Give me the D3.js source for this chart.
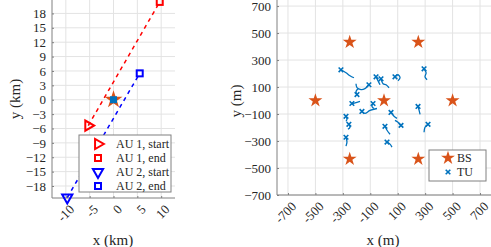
<!DOCTYPE html>
<html>
<head>
<meta charset="utf-8">
<script src="https://cdn.jsdelivr.net/npm/d3@7"></script>
<style>
  body { margin: 0; background: #fff; }
  svg text { font-family: "Liberation Serif", "Times New Roman", serif; fill: #262626; }
</style>
</head>
<body>
<div id="chart"></div>
<script>
// ---- data ----
// left: aerial users (km)
var au1Start = [-5.3, -5.4], au1End = [9.7, 20.4]
var au2Start = [-9.7, -20.4], au2End = [5.5, 5.5]
var bsLeft = [[0, 0]]
var kmTicksX = [-10, -5, 0, 5, 10]
var kmTicksY = [-18, -15, -12, -9, -6, -3, 0, 3, 6, 9, 12, 15, 18]
var auLegend = ["AU 1, start", "AU 1, end", "AU 2, start", "AU 2, end"]

// right: base stations and terrestrial users (m)
var bsX = [-250, 250, -500, 0, 500, -250, 250]
var bsY = [433, 433, 0, 0, 0, -433, -433]
// each TU track: first point is the marker
var tuTracks = [
  [[-314, 228], [-277, 206], [-248, 184], [-219, 169]],
  [[292, 235], [307, 206], [299, 176], [314, 154]],
  [[-58, 176], [-44, 147], [-29, 117]],
  [[-22, 161], [-7, 125], [15, 117], [37, 95]],
  [[-110, 117], [-139, 88], [-168, 81], [-197, 95], [-204, 125]],
  [[-197, 44], [-204, 66], [-190, 88]],
  [[80, 176], [102, 191], [117, 169], [102, 147]],
  [[-234, -22], [-204, -15], [-175, -7]],
  [[-80, -22], [-88, -44], [-73, -59]],
  [[-161, -81], [-139, -95], [-102, -73], [-51, -59]],
  [[-277, -117], [-270, -139], [-277, -154]],
  [[-256, -176], [-248, -198], [-263, -213]],
  [[51, -88], [73, -117], [95, -132]],
  [[124, -184], [102, -161], [80, -147]],
  [[248, -44], [256, -73], [263, -103]],
  [[321, -176], [299, -198], [292, -235]],
  [[7, -191], [22, -220], [44, -250]],
  [[-277, -272], [-270, -308], [-277, -338]],
  [[22, -308], [44, -323], [58, -345]]
]
var mTicks = [-700, -500, -300, -100, 100, 300, 500, 700]
var tuLegend = ["BS", "TU"]

var red = "#ff0000", blue = "#0000ff", orange = "#d95319", tuBlue = "#0072bd"
var gridCol = "#e3e3e3", axisCol = "#808080"
var serif = "Liberation Serif, Times New Roman, serif"

var svg = d3.select("#chart").append("svg")
  .attr("width", 491).attr("height", 247)

// ---- left panel ----
var x1 = d3.scaleLinear().domain([-12.9, 12.9]).range([52, 175])
var y1 = d3.scaleLinear().domain([-20.5, 20.8]).range([198, 0])

var left = svg.append("g")

left.append("g").selectAll("line").data(kmTicksX).enter().append("line")
  .attr("x1", d => x1(d)).attr("x2", d => x1(d))
  .attr("y1", 0).attr("y2", 198)
  .attr("stroke", gridCol)
left.append("g").selectAll("line").data(kmTicksY).enter().append("line")
  .attr("x1", 52).attr("x2", 175)
  .attr("y1", d => y1(d)).attr("y2", d => y1(d))
  .attr("stroke", gridCol)

var ax1 = left.append("g").attr("transform", "translate(52,0)")
  .call(d3.axisLeft(y1).tickValues(kmTicksY).tickSize(-2).tickPadding(6))
var bx1 = left.append("g").attr("transform", "translate(0,198)")
  .call(d3.axisBottom(x1).tickValues(kmTicksX).tickSize(-2).tickFormat(""))
left.selectAll(".domain, .tick line").attr("stroke", axisCol)
ax1.attr("font-family", serif).attr("font-size", 13)
ax1.selectAll("text").attr("fill", "#262626")
ax1.select(".domain").attr("d", "M0,0V198")
bx1.select(".domain").attr("d", "M52,0H175")

left.append("g").selectAll("text").data(kmTicksX).enter().append("text")
  .attr("transform", d => "translate(" + (x1(d) + 6) + ",207) rotate(-45)")
  .attr("text-anchor", "end").attr("dy", "0.35em")
  .style("font-size", "13px")
  .text(d => d)

left.append("text").attr("x", 113).attr("y", 245).attr("text-anchor", "middle")
  .style("font-size", "15px").text("x (km)")
left.append("text").attr("transform", "translate(20,99) rotate(-90)")
  .attr("text-anchor", "middle").style("font-size", "15px").text("y (km)")

left.append("line")
  .attr("x1", x1(au1Start[0])).attr("y1", y1(au1Start[1]))
  .attr("x2", x1(au1End[0])).attr("y2", y1(au1End[1]))
  .attr("stroke", red).attr("stroke-width", 1.5).attr("stroke-dasharray", "4,4")
left.append("line")
  .attr("x1", x1(au2Start[0])).attr("y1", y1(au2Start[1]))
  .attr("x2", x1(au2End[0])).attr("y2", y1(au2End[1]))
  .attr("stroke", blue).attr("stroke-width", 1.5).attr("stroke-dasharray", "4,4")

var star = d3.symbol().type(d3.symbolStar)
var tri = d3.symbol().type(d3.symbolTriangle)

left.selectAll(".bs").data(bsLeft).enter().append("path")
  .attr("d", star.size(100)())
  .attr("transform", d => "translate(" + x1(d[0]) + "," + y1(d[1]) + ")")
  .attr("fill", orange)
left.selectAll(".sq").data(bsLeft).enter().append("rect")
  .attr("x", d => x1(d[0]) - 3.5).attr("y", d => y1(d[1]) - 3.5)
  .attr("width", 7).attr("height", 7).attr("fill", tuBlue)

function triRight(g, p, c) {
  g.append("path").attr("d", tri.size(45)())
    .attr("transform", "translate(" + p[0] + "," + p[1] + ") rotate(90)")
    .attr("fill", "none").attr("stroke", c).attr("stroke-width", 2)
}
function triDown(g, p, c) {
  g.append("path").attr("d", tri.size(45)())
    .attr("transform", "translate(" + p[0] + "," + p[1] + ") rotate(180)")
    .attr("fill", "none").attr("stroke", c).attr("stroke-width", 2)
}
function square(g, p, c) {
  g.append("rect").attr("x", p[0] - 3).attr("y", p[1] - 3)
    .attr("width", 6).attr("height", 6)
    .attr("fill", "none").attr("stroke", c).attr("stroke-width", 2)
}
triRight(left, [x1(au1Start[0]), y1(au1Start[1])], red)
square(left, [x1(au1End[0]), y1(au1End[1])], red)
triDown(left, [x1(au2Start[0]), y1(au2Start[1])], blue)
square(left, [x1(au2End[0]), y1(au2End[1])], blue)

// left legend
var lg = left.append("g")
lg.append("rect").attr("x", 79).attr("y", 135).attr("width", 92).attr("height", 57)
  .attr("fill", "#fff").attr("stroke", axisCol)
var markFns = [triRight, square, triDown, square]
var markCols = [red, red, blue, blue]
auLegend.forEach(function(t, i) {
  var yy = 144 + i * 14
  markFns[i](lg, [98, yy], markCols[i])
  lg.append("text").attr("x", 116).attr("y", yy).attr("dy", "0.35em")
    .style("font-size", "12px").text(t)
})

// ---- right panel ----
var x2 = d3.scaleLinear().domain([-780, 780]).range([277, 491])
var y2 = d3.scaleLinear().domain([-700, 745]).range([195, 0])

var right = svg.append("g")
right.append("g").selectAll("line").data(mTicks).enter().append("line")
  .attr("x1", d => x2(d)).attr("x2", d => x2(d))
  .attr("y1", 0).attr("y2", 195).attr("stroke", gridCol)
right.append("g").selectAll("line").data(mTicks).enter().append("line")
  .attr("x1", 277).attr("x2", 491)
  .attr("y1", d => y2(d)).attr("y2", d => y2(d)).attr("stroke", gridCol)

var ax2 = right.append("g").attr("transform", "translate(277,0)")
  .call(d3.axisLeft(y2).tickValues(mTicks).tickSize(-2).tickPadding(6))
var bx2 = right.append("g").attr("transform", "translate(0,195)")
  .call(d3.axisBottom(x2).tickValues(mTicks).tickSize(-2).tickFormat(""))
right.selectAll(".domain, .tick line").attr("stroke", axisCol)
ax2.attr("font-family", serif).attr("font-size", 13)
ax2.selectAll("text").attr("fill", "#262626")
ax2.select(".domain").attr("d", "M0,0V195")
bx2.select(".domain").attr("d", "M277,0H491")

right.append("g").selectAll("text").data(mTicks).enter().append("text")
  .attr("transform", d => "translate(" + (x2(d) + 6) + ",204) rotate(-45)")
  .attr("text-anchor", "end").attr("dy", "0.35em")
  .style("font-size", "13px")
  .text(d => d)

right.append("text").attr("x", 383).attr("y", 245).attr("text-anchor", "middle")
  .style("font-size", "15px").text("x (m)")
right.append("text").attr("transform", "translate(241,101) rotate(-90)")
  .attr("text-anchor", "middle").style("font-size", "15px").text("y (m)")

var line = d3.line().x(d => x2(d[0])).y(d => y2(d[1])).curve(d3.curveCatmullRom)
right.append("g").selectAll("path").data(tuTracks).enter().append("path")
  .attr("d", line).attr("fill", "none").attr("stroke", tuBlue).attr("stroke-width", 1.3)

function xMark(g, p, s) {
  g.append("path")
    .attr("d", "M" + (p[0] - s) + "," + (p[1] - s) + "L" + (p[0] + s) + "," + (p[1] + s) +
      "M" + (p[0] - s) + "," + (p[1] + s) + "L" + (p[0] + s) + "," + (p[1] - s))
    .attr("stroke", tuBlue).attr("stroke-width", 1.6)
}
tuTracks.forEach(function(t) { xMark(right, [x2(t[0][0]), y2(t[0][1])], 2.3) })

right.append("g").selectAll("path").data(bsX).enter().append("path")
  .attr("d", star.size(60)())
  .attr("transform", (d, i) => "translate(" + x2(d) + "," + y2(bsY[i]) + ")")
  .attr("fill", orange)

// right legend
var rg = right.append("g")
rg.append("rect").attr("x", 429).attr("y", 150).attr("width", 57).attr("height", 31)
  .attr("fill", "#fff").attr("stroke", axisCol)
rg.append("path").attr("d", star.size(60)()).attr("transform", "translate(448,158)")
  .attr("fill", orange)
xMark(rg, [448, 172], 2.3)
tuLegend.forEach(function(t, i) {
  rg.append("text").attr("x", 457).attr("y", 158 + i * 14).attr("dy", "0.35em")
    .style("font-size", "12px").text(t)
})
</script>
</body>
</html>
